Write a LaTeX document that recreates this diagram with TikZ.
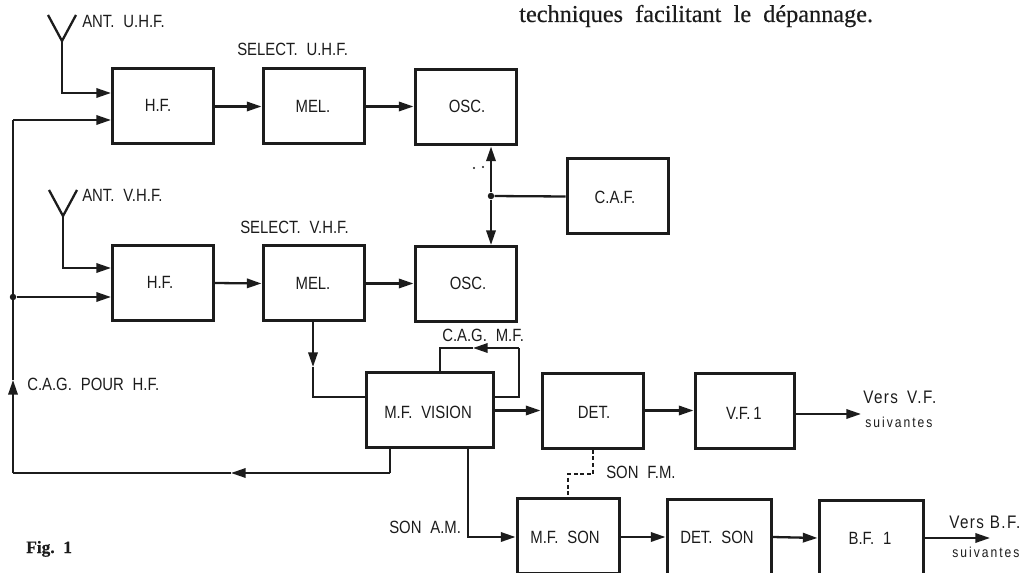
\documentclass[tikz,border=0pt]{standalone}
\usepackage{fontspec}
\setmainfont{Liberation Sans}[FakeStretch=0.84]
\newfontfamily\serif{Liberation Serif}[FakeBold=0.4]
\usetikzlibrary{arrows.meta,calc}
\definecolor{ink}{HTML}{1C1C1C}
\tikzset{
  bloc/.style={draw=ink,line width=3*0.75pt,minimum width=#1*0.75pt,minimum height=75*0.75pt,inner sep=0pt,text=ink,font=\fontsize{13.3}{14}\selectfont},
  bloc/.default=101,
  lbl/.style={inner sep=0pt,text=ink,font=\fontsize{13.3}{14}\selectfont},
  spaced/.style={inner sep=0pt,text=ink,font=\fontsize{13.6}{14}\selectfont\addfontfeature{LetterSpace=8}},
  small/.style={inner sep=0pt,text=ink,font=\fontsize{10.8}{11}\selectfont\addfontfeature{LetterSpace=14}},
  wire/.style={draw=ink,line width=2.3*0.75pt,line join=miter},
  arr/.style={wire,-{Triangle[length=11pt,width=7pt]}},
  jdot/.style={circle,fill=ink,inner sep=0pt,minimum size=6.5*0.75pt},
  speck/.style={circle,fill=ink,inner sep=0pt,minimum size=1.6pt}
}
\begin{document}
\begin{tikzpicture}[x=0.75pt,y=-0.75pt]
\useasboundingbox (0,0) rectangle (1020,573);
\fill[white] (0,0) rectangle (1020,573);
% blocks
\node[bloc] (hfu) at (163,106.5) {};
\node[bloc] (melu) at (313.5,106.5) {};
\node[bloc] (oscu) at (465.5,107.5) {};
\node[bloc] (caf) at (617.5,196.5) {};
\node[bloc] (hfv) at (163,283) {};
\node[bloc] (melv) at (313.5,283.5) {};
\node[bloc] (oscv) at (465.5,284) {};
\node[bloc=127] (mfv) at (429.5,410) {};
\node[bloc] (det) at (592.5,410.5) {};
\node[bloc=99] (vf) at (744.5,411) {};
\node[bloc=102] (mfs) at (568,536) {};
\node[bloc=104] (dets) at (719,537) {};
\node[bloc=104] (bf) at (871,538) {};
% block texts
\node[lbl] (thfu) at (158,105) {H.F.};
\node[lbl] (tmelu) at (313,106) {MEL.};
\node[lbl] (toscu) at (467,106) {OSC.};
\node[lbl] (tcaf) at (615,197) {C.A.F.};
\node[lbl] (thfv) at (160,282) {H.F.};
\node[lbl] (tmelv) at (313,283) {MEL.};
\node[lbl] (toscv) at (468,283) {OSC.};
\node[lbl] (tmfv) at (428,412) {M.F.\enspace VISION};
\node[lbl] (tdet) at (594,412) {DET.};
\node[lbl] (tvf) at (744,413) {V.F.\,1};
\node[lbl] (tmfs) at (565,537) {M.F.\enspace SON};
\node[lbl] (tdets) at (717,537) {DET.\enspace SON};
\node[lbl] (tbf) at (870,538) {B.F.\enspace 1};
% labels
\node[lbl,anchor=west] (lantu) at (82,21) {ANT.\enspace U.H.F.};
\node[lbl,anchor=west] (lselu) at (237,49) {SELECT.\enspace U.H.F.};
\node[lbl,anchor=west] (lantv) at (82,195) {ANT.\enspace V.H.F.};
\node[lbl,anchor=west] (lselv) at (240,227) {SELECT.\enspace V.H.F.};
\node[lbl,anchor=west] (lcagmf) at (442,335) {C.A.G.\enspace M.F.};
\node[lbl,anchor=west] (lcag) at (27,384) {C.A.G.\enspace POUR\enspace H.F.};
\node[lbl,anchor=west] (lsonfm) at (606,472) {SON\enspace F.M.};
\node[lbl,anchor=west] (lsonam) at (389,527) {SON\enspace A.M.};
\node[spaced,anchor=west] (lvvf) at (863,397) {Vers\enspace V.F.};
\node[small,anchor=west] (lsvf) at (865,422) {suivantes};
\node[spaced,anchor=west] (lvbf) at (949,522) {Vers B.F.};
\node[small,anchor=west] (lsbf) at (952,552) {suivantes};
\node[inner sep=0pt,anchor=base west,text=ink,font=\serif\bfseries\fontsize{13}{14}\selectfont] (fig) at (26,553) {Fig.\enspace 1};
\node[inner sep=0pt,anchor=base west,text=ink,font=\serif\fontsize{18.2}{19}\selectfont] (txt) at (519,22) {techniques\enspace facilitant\enspace le\enspace dépannage.};
% specks
\node[speck] (s1) at (474,168) {};
\node[speck] (s2) at (483,167) {};
% coordinates
\coordinate (au1) at (48,15);
\coordinate (au2) at (76,15);
\coordinate (au) at (62,41);
\coordinate (aub) at (62,93);
\coordinate (av1) at (49,190);
\coordinate (av2) at (77,190);
\coordinate (av) at (63,216);
\coordinate (avb) at (63,268);
\coordinate (cagtop) at (13,120);
\coordinate (cagbot) at (13,473);
\coordinate (cagup) at (13,380);
\coordinate (cagmid) at (231,473);
\coordinate (cagst) at (390,473);
\coordinate (lo) at (313,397);
\coordinate (lomid) at (313,367);
\coordinate (sa) at (440,348);
\coordinate (sb) at (519,348);
\coordinate (sc) at (519,397);
\coordinate (smid) at (473,348);
\coordinate (fma) at (593,474);
\coordinate (fmb) at (568,474);
\coordinate (am) at (468,537);
\coordinate (vfout) at (861,414);
\coordinate (bfout) at (990,538);
\node[jdot] (jv) at (13,297) {};
\node[jdot] (jo) at (491,196) {};
% antennas
\draw[wire] (au1) -- (au) -- (au2);
\draw[wire] (av1) -- (av) -- (av2);
\draw[arr] (au) -- (aub) -- (hfu.west |- aub);
\draw[arr] (av) -- (avb) -- (hfv.west |- avb);
% row signal chain
\draw[arr] (hfu.east) -- (melu.west);
\draw[arr] (melu.east) -- (oscu.west |- melu.east);
\draw[arr] (hfv.east) -- (melv.west);
\draw[arr] (melv.east) -- (oscv.west |- melv.east);
% AFC
\draw[wire] (caf.west) -- (jo);
\draw[arr] (jo) -- (jo |- oscu.south);
\draw[arr] (jo) -- (jo |- oscv.north);
% AGC feedback
\draw[arr] (cagst) -- (cagmid);
\draw[wire] (cagst |- mfv.south) -- (cagst);
\draw[wire] (cagmid) -- (cagbot);
\draw[arr] (cagbot) -- (cagup);
\draw[wire] (cagup) -- (cagtop);
\draw[arr] (cagtop) -- (hfu.west |- cagtop);
\draw[arr] (jv) -- (hfv.west |- jv);
% MEL V to MF vision
\draw[arr] (melv.south -| lo) -- (lomid);
\draw[wire] (lomid) -- (lo) -- (mfv.west |- lo);
% AGC MF loop
\draw[wire] (mfv.east |- sc) -- (sc) -- (sb);
\draw[arr] (sb) -- (smid);
\draw[wire] (smid) -- (sa) -- (sa |- mfv.north);
% main chain
\draw[arr] (mfv.east |- det.west) -- (det.west);
\draw[arr] (det.east) -- (vf.west |- det.east);
\draw[arr] (vf.east |- vfout) -- (vfout);
\draw[wire,densely dashed] (fma |- det.south) -- (fma) -- (fmb) -- (fmb |- mfs.north);
\draw[arr] (am |- mfv.south) -- (am) -- (mfs.west |- am);
\draw[arr] (mfs.east |- am) -- (dets.west |- am);
\draw[arr] (dets.east) -- (bf.west);
\draw[arr] (bf.east) -- (bfout);
\end{tikzpicture}
\end{document}
